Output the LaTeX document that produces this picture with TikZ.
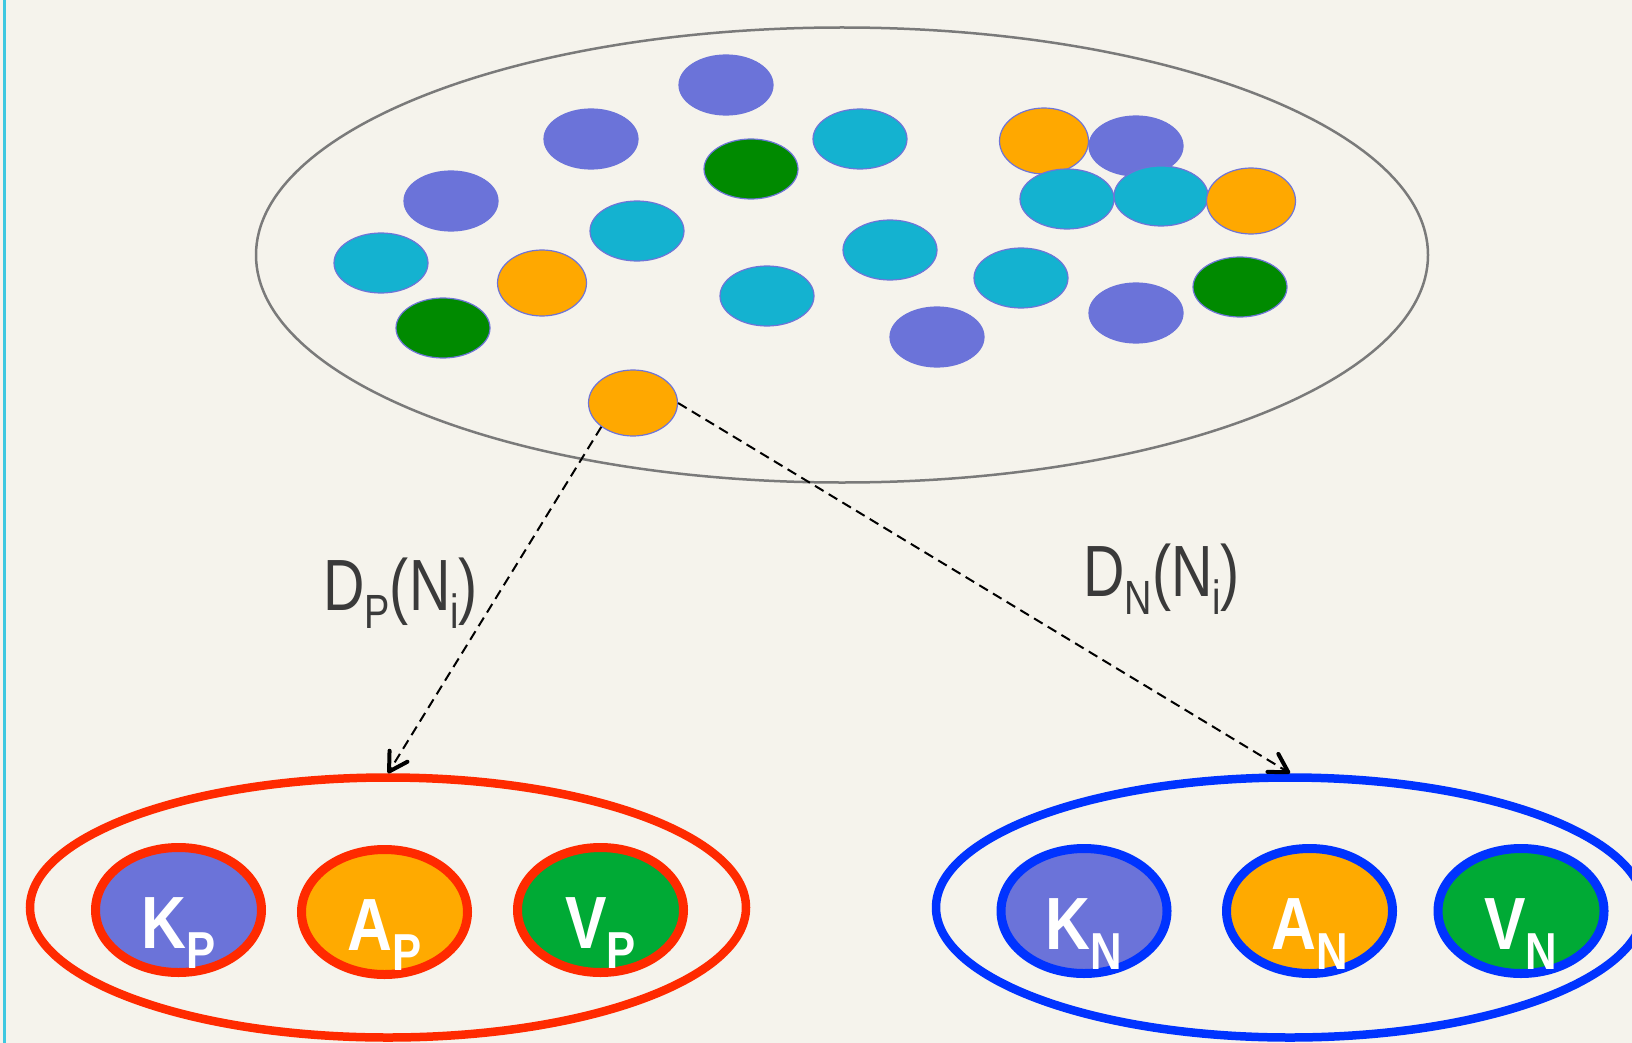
\documentclass[tikz,border=0pt]{standalone}
\usepackage{fontspec}
\setmainfont{Liberation Sans}
\usetikzlibrary{shapes.geometric,arrows.meta}

\definecolor{bgc}{HTML}{F5F3EC}
\definecolor{dotpurple}{HTML}{6B73D9}
\definecolor{dotcyan}{HTML}{14B2D0}
\definecolor{dotgreen}{HTML}{008A00}
\definecolor{dotorange}{HTML}{FFA800}
\definecolor{rimc}{HTML}{6E74D8}
\definecolor{poolgray}{HTML}{7A7A7A}
\definecolor{posred}{HTML}{FF2A00}
\definecolor{negblue}{HTML}{0033FF}
\definecolor{kfill}{HTML}{6B73D9}
\definecolor{afill}{HTML}{FFAA00}
\definecolor{vfill}{HTML}{00AA35}
\definecolor{labelgray}{HTML}{3A3A3A}
\definecolor{edgecyan}{HTML}{3EC8E0}

% white bold condensed letter with a lowered subscript
\newcommand{\kavlabel}[2]{\scalebox{0.84}[1]{\fontsize{74}{80}\selectfont\bfseries #1\raisebox{-20pt}{\fontsize{52}{56}\selectfont\bfseries #2}}}
% distribution label D_x(N_i)
\newcommand{\distlabel}[1]{\scalebox{0.79}[1]{\fontsize{72.6}{80}\selectfont D\raisebox{-18pt}{\fontsize{48}{52}\selectfont #1}(N\raisebox{-18pt}{\fontsize{48}{52}\selectfont i})}}

\begin{document}
\begin{tikzpicture}[x=1pt,y=-1pt,
  dot/.style={ellipse, draw=rimc, line width=1.2pt, minimum width=94pt, minimum height=60pt, inner sep=0pt},
  pdot/.style={dot, fill=dotpurple, draw=dotpurple},
  cdot/.style={dot, fill=dotcyan},
  gdot/.style={dot, fill=dotgreen},
  odot/.style={dot, fill=dotorange, minimum width=89pt, minimum height=66pt},
  pool/.style={ellipse, draw=poolgray, line width=2.5pt, minimum width=1172pt, minimum height=455pt, inner sep=0pt},
  group/.style={ellipse, line width=8.5pt, minimum width=716pt, minimum height=260pt, inner sep=0pt},
  member/.style={ellipse, line width=9pt, minimum width=166pt, minimum height=125pt, inner sep=0pt,
    text=white, text height=76pt, text depth=0pt, align=center},
  dlabel/.style={inner sep=0pt, text=labelgray},
  conn/.style={black, dashed, dash pattern=on 10pt off 6pt, line width=2pt,
    -{Straight Barb[length=18pt,width=21pt,line width=4pt,round]}}
]
% page and bounding box
\fill[bgc] (0,0) rectangle (1632,1043);
\useasboundingbox (0,0) rectangle (1632,1043);
\draw[edgecyan, line width=2.5pt] (4.5,0) -- (4.5,1043);

% the pool of nodes
\node[pool] (pool) at (842,255) {};

\node[pdot] (d1) at (726,85) {};
\node[pdot] (d2) at (591,139) {};
\node[cdot] (d3) at (860,139) {};
\node[gdot] (d4) at (751,169) {};
\node[odot] (d5) at (1044,141) {};
\node[pdot] (d6) at (1136,146) {};
\node[pdot] (d7) at (451,201) {};
\node[cdot] (d8) at (637,231) {};
\node[cdot] (d9) at (1067,199) {};
\node[cdot] (d10) at (1161,196) {};
\node[odot] (d11) at (1251,201) {};
\node[cdot] (d12) at (381,263) {};
\node[odot] (d13) at (542,283) {};
\node[cdot] (d14) at (890,250) {};
\node[cdot] (d15) at (767,296) {};
\node[cdot] (d16) at (1021,278) {};
\node[gdot] (d17) at (443,328) {};
\node[pdot] (d18) at (937,337) {};
\node[pdot] (d19) at (1136,313) {};
\node[gdot] (d20) at (1240,287) {};
\node[odot] (sel) at (633,403) {};

% positive and negative groups
\node[group, draw=posred] (pos) at (388,907.5) {};
\node[member, draw=posred, fill=kfill] (kp) at (178.5,910) {\kavlabel{K}{P}};
\node[member, draw=posred, fill=afill] (ap) at (384.5,912) {\kavlabel{A}{P}};
\node[member, draw=posred, fill=vfill] (vp) at (600.5,910) {\kavlabel{V}{P}};

\node[group, draw=negblue, minimum width=708pt] (neg) at (1290,907.5) {};
\node[member, draw=negblue, fill=kfill] (kn) at (1084,911) {\kavlabel{K}{N}};
\node[member, draw=negblue, fill=afill] (an) at (1309.5,911) {\kavlabel{A}{N}};
\node[member, draw=negblue, fill=vfill] (vn) at (1521,911) {\kavlabel{V}{N}};

% connectors
\draw[conn] (sel.-143) -- (pos.north);
\draw[conn] (sel.east) -- (neg.north);

% labels
\node[dlabel, anchor=base west] (dp) at (323,610) {\distlabel{P}};
\node[dlabel, anchor=base west] (dn) at (1083,596) {\distlabel{N}};
\end{tikzpicture}
\end{document}
